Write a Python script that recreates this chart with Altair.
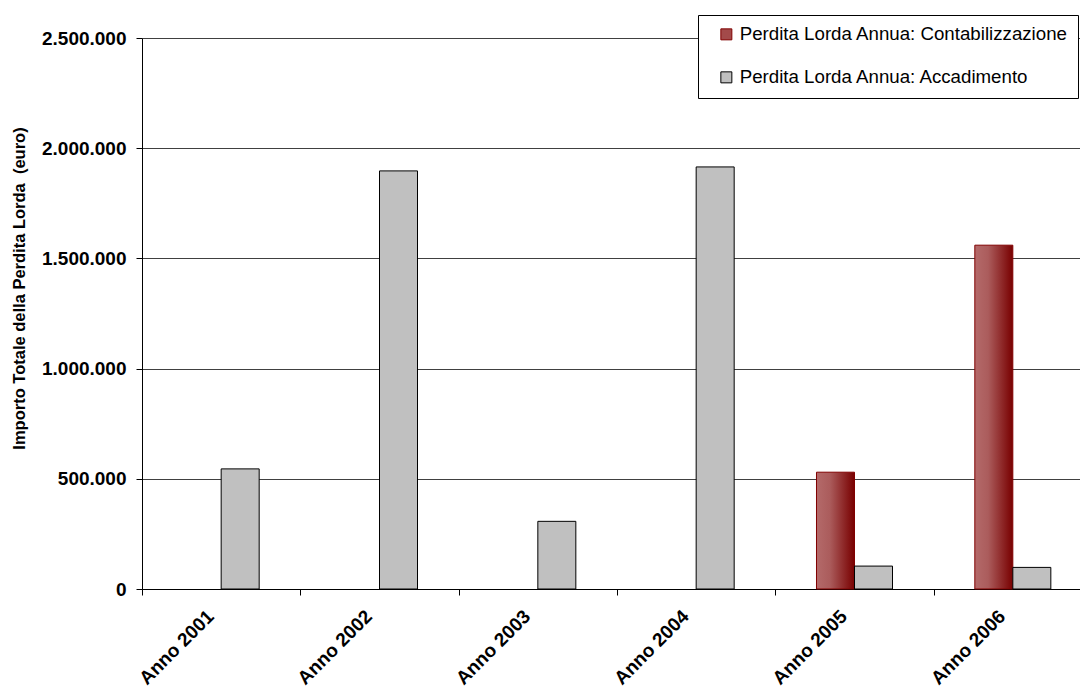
import altair as alt
import pandas as pd

# Annual gross loss, by year and by series (euro)
anni = ["Anno 2001", "Anno 2002", "Anno 2003", "Anno 2004", "Anno 2005", "Anno 2006"]
accadimento = [545000, 1897000, 307000, 1915000, 104000, 98000]
contabilizzazione = [None, None, None, None, 530000, 1560000]

S_CONT = "Perdita Lorda Annua: Contabilizzazione"
S_ACC = "Perdita Lorda Annua: Accadimento"
serie = [S_CONT, S_ACC]

# empty slots either side of the bar pair inside each year band
slot_offset = ["_vuoto_sx", S_CONT, S_ACC, "_vuoto_dx"]

y_ticks = [0, 500000, 1000000, 1500000, 2000000, 2500000]

rows = []
for anno, acc, cont in zip(anni, accadimento, contabilizzazione):
    if cont is not None:
        rows.append({"anno": anno, "serie": S_CONT, "valore": cont})
    rows.append({"anno": anno, "serie": S_ACC, "valore": acc})
df = pd.DataFrame(rows)

FONT = "Liberation Sans"

x_enc = alt.X(
    "anno:N",
    sort=anni,
    scale=alt.Scale(domain=anni, range=[0, 950], paddingInner=0, paddingOuter=0),
    axis=alt.Axis(
        title=None,
        labelAngle=315,
        labelAlign="right",
        labelBaseline="middle",
        labelFont=FONT,
        labelFontSize=19,
        labelFontWeight="bold",
        labelColor="black",
        labelPadding=18,
        labelOffset=-11,
        tickBand="extent",
        tickSize=6,
        tickColor="black",
        domainColor="black",
        grid=False,
    ),
)

xoff_enc = alt.XOffset(
    "serie:N",
    scale=alt.Scale(domain=slot_offset, paddingOuter=0.083, paddingInner=0),
)

y_enc = alt.Y(
    "valore:Q",
    scale=alt.Scale(domain=[0, 2500000], nice=False),
    axis=alt.Axis(
        values=y_ticks,
        title="Importo Totale della Perdita Lorda \u00a0(euro)",
        titleFont=FONT,
        titleFontSize=16.5,
        titleFontWeight="bold",
        titleColor="black",
        titleAngle=270,
        titleX=-123,
        titleY=250,
        titleAlign="center",
        titleBaseline="middle",
        labelExpr="replace(format(datum.value, ',d'), regexp(',', 'g'), '.')",
        labelFont=FONT,
        labelFontSize=19,
        labelFontWeight="bold",
        labelColor="black",
        labelPadding=10,
        tickSize=6,
        tickColor="black",
        domainColor="black",
        grid=True,
        gridColor="#404040",
        gridWidth=1,
    ),
)

legenda = alt.Legend(
    title=None,
    orient="none",
    legendX=556,
    legendY=-23,
    direction="vertical",
    symbolType="square",
    symbolSize=121,
    symbolStrokeWidth=1,
    labelFont=FONT,
    labelFontSize=18.7,
    labelColor="black",
    labelLimit=600,
    labelOffset=4,
    symbolOffset=9,
    padding=10,
    rowPadding=23,
    strokeColor="black",
    fillColor="white",
)

rosso = {
    "gradient": "linear",
    "x1": 0, "y1": 0, "x2": 1, "y2": 0,
    "stops": [
        {"offset": 0, "color": "#b46a6a"},
        {"offset": 0.35, "color": "#ab5c5c"},
        {"offset": 1, "color": "#780000"},
    ],
}

base = alt.Chart(df)

barre_cont = (
    base.transform_filter(alt.datum.serie == S_CONT)
    .mark_bar(fill=rosso, stroke="#800000", strokeWidth=1)
    .encode(x=x_enc, xOffset=xoff_enc, y=y_enc)
)

barre_acc = (
    base.transform_filter(alt.datum.serie == S_ACC)
    .mark_bar(strokeWidth=1)
    .encode(
        x=x_enc,
        xOffset=xoff_enc,
        y=y_enc,
        fill=alt.Fill(
            "serie:N",
            scale=alt.Scale(domain=serie, range=["#a34a4a", "#c0c0c0"]),
            legend=legenda,
        ),
        stroke=alt.Stroke(
            "serie:N",
            scale=alt.Scale(domain=serie, range=["#800000", "#000000"]),
            legend=legenda,
        ),
    )
)

chart = (
    alt.layer(barre_cont, barre_acc)
    .properties(
        width=938,
        height=551,
        autosize=alt.AutoSizeParams(type="none"),
        padding={"left": 142, "top": 38, "right": 0, "bottom": 99},
        background="white",
    )
    .configure_view(stroke=None)
)

chart.save("out.html", embed_options={"renderer": "svg", "actions": False})
